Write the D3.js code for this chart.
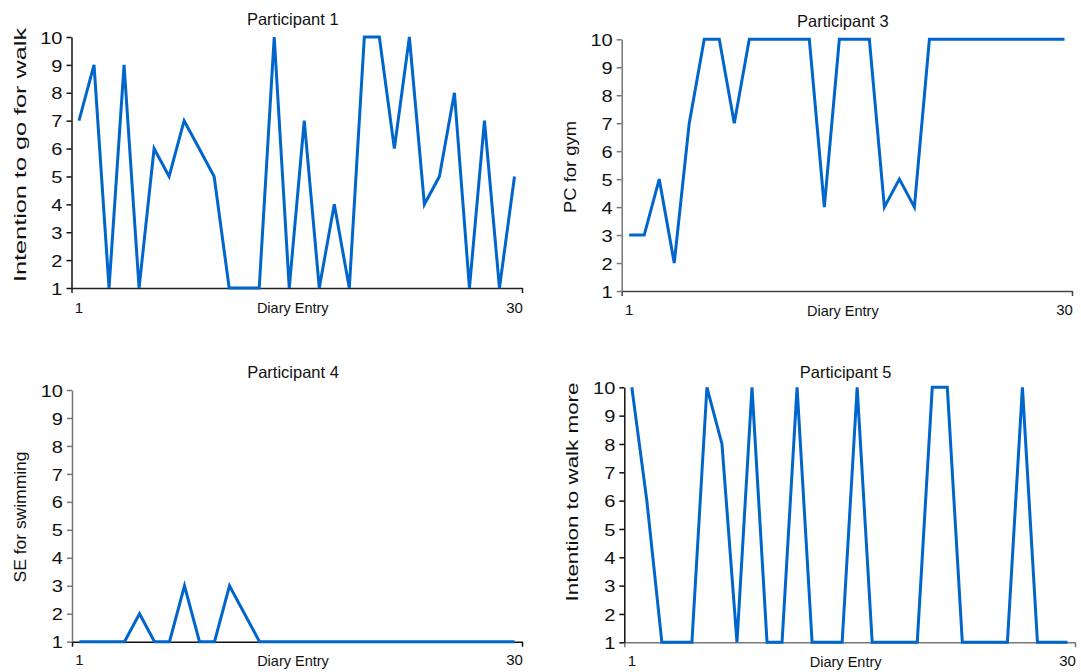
<!DOCTYPE html>
<html>
<head>
<meta charset="utf-8">
<script src="https://cdn.jsdelivr.net/npm/d3@7"></script>
<style>
  body { margin: 0; background: #fff; }
  svg { display: block; font-family: "Liberation Sans", Arial, sans-serif; }
</style>
</head>
<body>
<svg id="chart" width="1081" height="672"></svg>
<script>
// diary entries (categories)
const entries = [1,2,3,4,5,6,7,8,9,10,11,12,13,14,15,16,17,18,19,20,21,22,23,24,25,26,27,28,29,30];
const yTicks = [1,2,3,4,5,6,7,8,9,10];

// one series per participant
const p1Values = [7,9,1,9,1,6,5,7,6,5,1,1,1,10,1,7,1,4,1,10,10,6,10,4,5,8,1,7,1,5];
const p3Values = [3,3,5,2,7,10,10,7,10,10,10,10,10,4,10,10,10,4,5,4,10,10,10,10,10,10,10,10,10,10];
const p4Values = [1,1,1,1,2,1,1,3,1,1,3,2,1,1,1,1,1,1,1,1,1,1,1,1,1,1,1,1,1,1];
const p5Values = [10,6,1,1,1,10,8,1,10,1,1,10,1,1,1,10,1,1,1,1,10,10,1,1,1,1,10,1,1,1];

const titles = ["Participant 1", "Participant 3", "Participant 4", "Participant 5"];
const yTitles = ["Intention to go for walk", "PC for gym", "SE for swimming", "Intention to walk more"];

// layout of each panel (pixel boxes)
const panels = [
  {vals: p1Values, x0: 71.5, x1: 522, top: 37, bot: 288, titleY: 25, xlabY: 315, dlabY: 313, ytX: 26, ytY: 155, ytLen: 254, yAxisCol: "#111", xAxisCol: "#222"},
  {vals: p3Values, x0: 621.7, x1: 1072, top: 39.3, bot: 291, titleY: 27, xlabY: 317, dlabY: 316, ytX: 576, ytY: 167, ytLen: 92, yAxisCol: "#777", xAxisCol: "#444"},
  {vals: p4Values, x0: 72, x1: 522, top: 390, bot: 641.7, titleY: 378, xlabY: 667, dlabY: 666, ytX: 26, ytY: 517, ytLen: 131, yAxisCol: "#777", xAxisCol: "#111"},
  {vals: p5Values, x0: 624.3, x1: 1075, top: 387.3, bot: 642.3, titleY: 378, xlabY: 668, dlabY: 667, ytX: 578, ytY: 492, ytLen: 219, yAxisCol: "#111", xAxisCol: "#777"}
];

const svg = d3.select("#chart");

panels.forEach(function(p, i) {
  const g = svg.append("g");

  const x = d3.scaleBand().domain(entries).range([p.x0, p.x1]).padding(0);
  const xEdge = d3.scaleLinear().domain([0, entries.length]).range([p.x0, p.x1]);
  const y = d3.scaleLinear().domain([1, 10]).range([p.bot, p.top]);

  // x axis line with end ticks only
  const xa = g.append("g")
    .attr("transform", "translate(0," + p.bot + ")")
    .call(d3.axisBottom(xEdge).tickValues([0, entries.length]).tickFormat("").tickSize(5).tickSizeOuter(0));
  xa.selectAll("path, line").attr("stroke", p.xAxisCol).attr("stroke-width", 1.5);

  // x labels "1" and "30" under first/last entry
  const xl = g.append("g")
    .attr("transform", "translate(0," + (p.xlabY - 13) + ")")
    .call(d3.axisBottom(x).tickValues([entries[0], entries[entries.length - 1]]).tickSize(0).tickPadding(0));
  xl.select(".domain").remove();
  xl.selectAll("text").attr("font-size", 15).attr("fill", "#111").attr("font-family", null);

  // y axis
  const ya = g.append("g")
    .attr("transform", "translate(" + p.x0 + ",0)")
    .call(d3.axisLeft(y).tickValues(yTicks).tickSize(5).tickSizeOuter(0).tickPadding(9));
  ya.selectAll("path, line").attr("stroke", p.yAxisCol).attr("stroke-width", 1.5);
  ya.selectAll("text")
    .attr("font-size", 17)
    .attr("fill", "#111")
    .attr("font-family", null)
    .attr("dy", "0.36em")
    .attr("transform", "scale(1.18,1)")
    .attr("x", -9 / 1.18);

  // series line
  const line = d3.line()
    .x(function(d, k) { return x(entries[k]) + x.bandwidth() / 2; })
    .y(function(d) { return y(d); });

  g.append("path")
    .datum(p.vals)
    .attr("d", line)
    .attr("fill", "none")
    .attr("stroke", "#0066cc")
    .attr("stroke-width", 3)
    .attr("stroke-linejoin", "miter");

  // titles
  const cx = (p.x0 + p.x1) / 2 - 4;
  g.append("text")
    .attr("x", cx)
    .attr("y", p.titleY)
    .attr("text-anchor", "middle")
    .attr("font-size", 16.5)
    .attr("fill", "#111")
    .text(titles[i]);

  g.append("text")
    .attr("x", cx)
    .attr("y", p.dlabY)
    .attr("text-anchor", "middle")
    .attr("font-size", 14.5)
    .attr("fill", "#111")
    .text("Diary Entry");

  g.append("text")
    .attr("transform", "translate(" + p.ytX + "," + p.ytY + ") rotate(-90)")
    .attr("text-anchor", "middle")
    .attr("font-size", 16)
    .attr("fill", "#111")
    .attr("textLength", p.ytLen)
    .attr("lengthAdjust", "spacingAndGlyphs")
    .text(yTitles[i]);
});
</script>
</body>
</html>
